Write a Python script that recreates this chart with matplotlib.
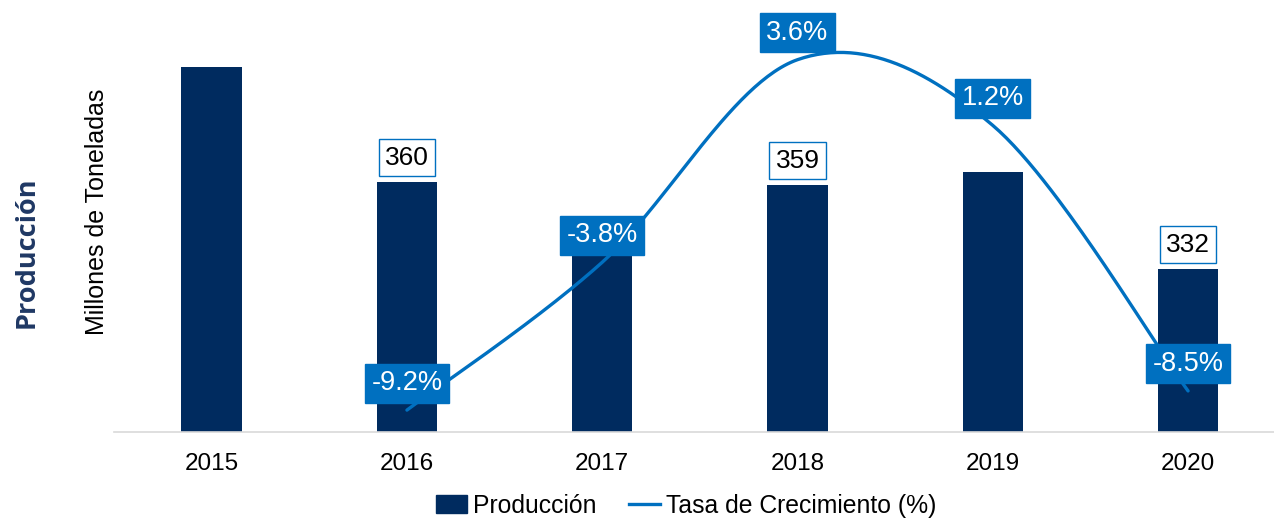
import numpy as np
import matplotlib
matplotlib.use('Agg')
import matplotlib.pyplot as plt
from matplotlib.patches import Patch
from matplotlib.lines import Line2D

# datos
anios = ['2015', '2016', '2017', '2018', '2019', '2020']
produccion = [397, 360, 346, 359, 363, 332]
crecimiento = [None, -9.2, -3.8, 3.6, 1.2, -8.5]
etiquetas_prod = {1: '360', 3: '359', 5: '332'}

AZUL_OSCURO = '#002B5F'
AZUL = '#0070C0'

plt.rcParams['font.family'] = ['Liberation Sans', 'DejaVu Sans']

fig = plt.figure(figsize=(12.74, 5.18), dpi=100)
ax1 = fig.add_axes([114 / 1274, 1 - 432 / 518, 1 - 114 / 1274, (432 - 46) / 518])
ax2 = ax1.twinx()

x = np.arange(len(anios))
ax1.bar(x, produccion, width=0.31, color=AZUL_OSCURO, zorder=2)
ax1.set_ylim(279.5, 403.7)
ax1.set_xlim(-0.5, 5.44)
ax2.set_ylim(-10.0, 4.1)

for s in ['top', 'right', 'left']:
    ax1.spines[s].set_visible(False)
    ax2.spines[s].set_visible(False)
ax2.spines['bottom'].set_visible(False)
ax1.spines['bottom'].set_color('#D9D9D9')
ax1.spines['bottom'].set_linewidth(1.2)
ax1.set_yticks([])
ax2.set_yticks([])
ax1.set_xticks(x)
ax1.set_xticklabels(anios, fontsize=17.5)
ax1.tick_params(axis='x', length=0, pad=15)

# etiquetas de produccion
for i, txt in etiquetas_prod.items():
    ax1.annotate(txt, (x[i], produccion[i]), xytext=(0, 17.5), textcoords='offset points',
                 ha='center', va='center', fontsize=19, color='black', zorder=5,
                 bbox=dict(boxstyle='square,pad=0.24', fc='white', ec=AZUL, lw=1))

# linea suavizada (Catmull-Rom en coordenadas de pantalla)
fig.canvas.draw()
xs = np.array([i for i, v in enumerate(crecimiento) if v is not None], dtype=float)
ys = np.array([v for v in crecimiento if v is not None], dtype=float)
pts = ax2.transData.transform(np.column_stack([xs, ys]))
ext = np.vstack([pts[0], pts, pts[-1]])
curva = []
for k in range(1, len(ext) - 2):
    p0, p1, p2, p3 = ext[k - 1], ext[k], ext[k + 1], ext[k + 2]
    c1 = p1 + (p2 - p0) / 6
    c2 = p2 - (p3 - p1) / 6
    t = np.linspace(0, 1, 60)[:, None]
    seg = (1 - t) ** 3 * p1 + 3 * (1 - t) ** 2 * t * c1 + 3 * (1 - t) * t ** 2 * c2 + t ** 3 * p2
    curva.append(seg)
curva = ax2.transData.inverted().transform(np.vstack(curva))
ax2.plot(curva[:, 0], curva[:, 1], color=AZUL, lw=2.4, solid_capstyle='round', zorder=3)

for xi, yi in zip(xs, ys):
    ax2.annotate(f'{yi:.1f}%', (xi, yi), xytext=(0, 19.5), textcoords='offset points',
                 ha='center', va='center', fontsize=19.5, color='white', zorder=6,
                 bbox=dict(boxstyle='square,pad=0.24', fc=AZUL, ec=AZUL, lw=1))

# titulos del eje
fig.text(97 / 1274, 1 - 212 / 518, 'Millones de Toneladas', rotation=90,
         ha='center', va='center', fontsize=18, color='black')
fig.text(27 / 1274, 1 - 252 / 518, 'Producción', rotation=90, ha='center', va='center',
         fontsize=19.5, fontweight='bold', color='#1F3864', family=['Open Sans', 'DejaVu Sans'])

# leyenda
handles = [Patch(facecolor=AZUL_OSCURO, edgecolor=AZUL_OSCURO),
           Line2D([0], [0], color=AZUL, lw=2.4)]
fig.legend(handles, ['Producción', 'Tasa de Crecimiento (%)'], loc='center',
           bbox_to_anchor=(686 / 1274, 1 - 506 / 518), ncol=2, frameon=False,
           fontsize=17.8, handlelength=1.25, handleheight=0.75, handletextpad=0.25,
           columnspacing=1.3, borderpad=0)

fig.savefig('out.png', dpi=100)
